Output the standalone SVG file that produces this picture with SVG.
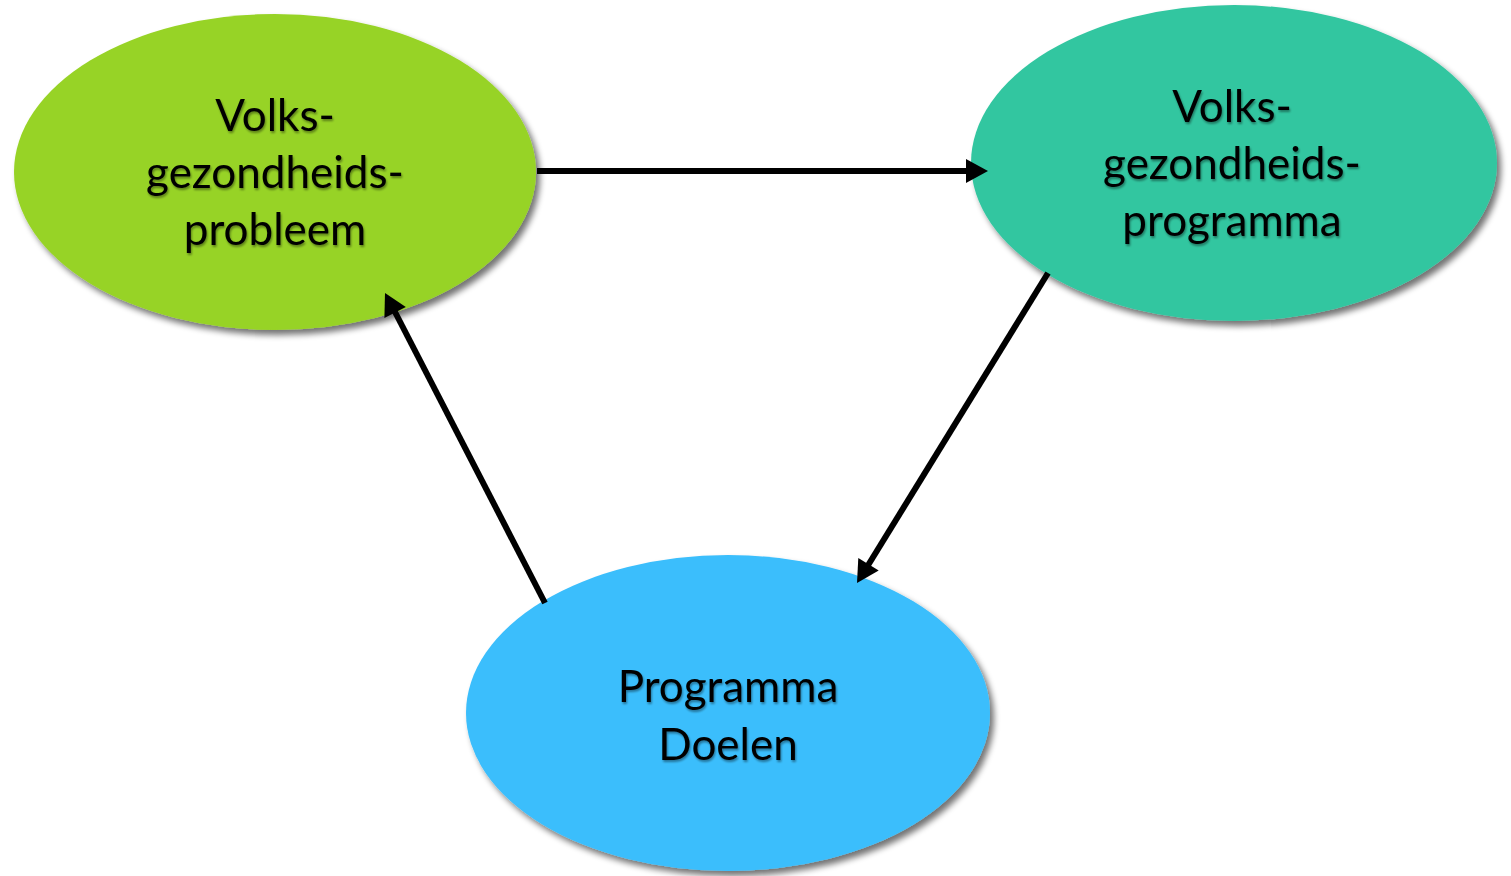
<svg xmlns="http://www.w3.org/2000/svg" width="1511" height="876" viewBox="0 0 1511 876">
<style>
.lbl{font-family:"Lato","Open Sans","Liberation Sans",sans-serif;font-size:44px;fill:#000;text-anchor:middle;filter:url(#tsh)}
.conn{stroke:#000;stroke-width:6;fill:none}
.head{fill:#000;stroke:none}
</style>
<defs>
<filter id="sh" x="-10%" y="-10%" width="125%" height="130%">
<feGaussianBlur in="SourceAlpha" stdDeviation="3"/>
<feOffset dx="4" dy="5" result="b"/>
<feComponentTransfer><feFuncA type="linear" slope="0.55"/></feComponentTransfer>
<feMerge><feMergeNode/><feMergeNode in="SourceGraphic"/></feMerge>
</filter>
<filter id="tsh" x="-10%" y="-20%" width="120%" height="150%">
<feGaussianBlur in="SourceAlpha" stdDeviation="1.2"/>
<feOffset dx="1" dy="2"/>
<feComponentTransfer><feFuncA type="linear" slope="0.4"/></feComponentTransfer>
<feMerge><feMergeNode/><feMergeNode in="SourceGraphic"/></feMerge>
</filter>
</defs>
<rect width="1511" height="876" fill="#fff"/>
<g id="node-probleem">
<ellipse cx="275" cy="172" rx="261" ry="158" fill="#97d326" filter="url(#sh)"/>
<text class="lbl" x="275" y="131">Volks-</text>
<text class="lbl" x="275" y="188">gezondheids-</text>
<text class="lbl" x="275" y="245">probleem</text>
</g>
<g id="node-programma">
<ellipse cx="1234" cy="163" rx="263" ry="158" fill="#33c6a0" filter="url(#sh)"/>
<text class="lbl" x="1232" y="122">Volks-</text>
<text class="lbl" x="1232" y="179">gezondheids-</text>
<text class="lbl" x="1232" y="236">programma</text>
</g>
<g id="node-doelen">
<ellipse cx="728" cy="713" rx="262" ry="158" fill="#3bbefc" filter="url(#sh)"/>
<text class="lbl" x="728" y="702">Programma</text>
<text class="lbl" x="728" y="760">Doelen</text>
</g>
<g id="connectors">
<line class="conn" x1="537" y1="171" x2="970" y2="171"/>
<polygon class="head" points="988,171 966,159 966,183"/>
<line class="conn" x1="1048" y1="273" x2="867" y2="567"/>
<polygon class="head" points="857,583 878.7,570.6 858.3,558"/>
<line class="conn" x1="545" y1="603" x2="394" y2="310"/>
<polygon class="head" points="385,293 405.8,307 384.4,318"/>
</g>
</svg>
